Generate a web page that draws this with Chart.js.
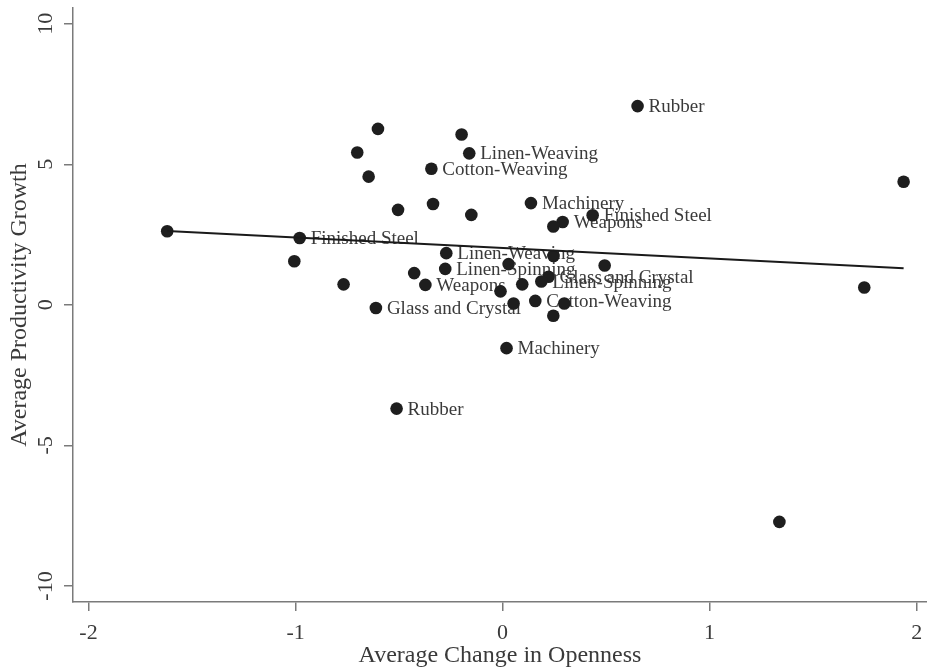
<!DOCTYPE html>
<html>
<head>
<meta charset="utf-8">
<script src="https://cdn.jsdelivr.net/npm/chart.js@4"></script>
<style>
  html, body { margin: 0; padding: 0; background: #fff; }
  #wrap { width: 927px; height: 670px; }
</style>
</head>
<body>
<div id="wrap"><canvas id="openChart"></canvas></div>
<script>
// industry points: change in openness (x) vs productivity growth (y)
var xVals = [0.652, -0.602, -0.198, -0.702, -0.161, -0.344, -0.647, -0.505, -0.336, -0.151,
             0.137, 0.435, 0.290, 0.245, -0.980, -1.620, -1.006, -0.272, 0.246, 0.493,
             -0.277, 0.029, -0.427, 0.222, 0.187, 0.095, -0.768, -0.373, -0.010, 0.158,
             0.298, 0.053, -0.612, 0.245, 0.019, -0.512, 1.937, 1.747, 1.337];
var yVals = [7.07, 6.26, 6.06, 5.42, 5.39, 4.84, 4.56, 3.38, 3.59, 3.20,
             3.62, 3.19, 2.95, 2.79, 2.38, 2.62, 1.55, 1.84, 1.74, 1.40,
             1.28, 1.45, 1.13, 1.00, 0.83, 0.73, 0.73, 0.71, 0.48, 0.14,
             0.05, 0.05, -0.11, -0.39, -1.54, -3.69, 4.38, 0.62, -7.72];
var pointLabels = ["Rubber", "", "", "", "Linen-Weaving", "Cotton-Weaving", "", "", "", "",
                   "Machinery", "Finished Steel", "Weapons", "", "Finished Steel", "", "", "Linen-Weaving", "", "",
                   "Linen-Spinning", "", "", "Glass and Crystal", "Linen-Spinning", "", "", "Weapons", "", "Cotton-Weaving",
                   "", "", "Glass and Crystal", "", "Machinery", "Rubber", "", "", ""];
// fitted line endpoints
var fitX = [-1.62, 1.937];
var fitY = [2.63, 1.30];
var xTicks = [-2, -1, 0, 1, 2];
var yTicks = [-10, -5, 0, 5, 10];

var serif = "'Liberation Serif', 'Times New Roman', serif";
var axisGrey = "#7a7a7a";
var textGrey = "#3a3a3a";

var pts = xVals.map(function (x, i) { return { x: x, y: yVals[i] }; });
var fitPts = fitX.map(function (x, i) { return { x: x, y: fitY[i] }; });

var labelPlugin = {
    id: "pointLabels",
    beforeDatasetsDraw: function (chart) {
        var meta = chart.getDatasetMeta(1);
        var ctx = chart.ctx;
        ctx.save();
        ctx.font = "19px " + serif;
        ctx.fillStyle = textGrey;
        ctx.textAlign = "left";
        ctx.textBaseline = "middle";
        meta.data.forEach(function (el, i) {
            if (pointLabels[i]) ctx.fillText(pointLabels[i], el.x + 11, el.y + 1);
        });
        ctx.restore();
    }
};

new Chart("openChart", {
    type: "scatter",
    data: {
        datasets: [{
            type: "line",
            data: fitPts,
            borderColor: "#1a1a1a",
            borderWidth: 2,
            pointRadius: 0,
            fill: false,
            order: 0
        }, {
            data: pts,
            backgroundColor: "#1e1e1e",
            borderWidth: 0,
            pointRadius: 6.3,
            order: 1
        }]
    },
    options: {
        responsive: true,
        maintainAspectRatio: false,
        animation: false,
        layout: { autoPadding: false, padding: { top: 8, right: 0, left: 0, bottom: 0 } },
        plugins: {
            legend: { display: false },
            tooltip: { enabled: false }
        },
        scales: {
            x: {
                type: "linear",
                min: -2.075,
                max: 2.05,
                afterFit: function (s) { s.height = 68; s.paddingLeft = 0; s.paddingRight = 0; },
                afterBuildTicks: function (s) { s.ticks = xTicks.map(function (v) { return { value: v }; }); },
                border: { display: true, color: axisGrey, width: 1.5 },
                grid: { display: true, drawOnChartArea: false, drawTicks: true, tickLength: 9, color: axisGrey, lineWidth: 1.5 },
                ticks: { font: { family: serif, size: 22 }, color: textGrey, padding: 9, maxRotation: 0 },
                title: { display: true, text: "Average Change in Openness", font: { family: serif, size: 24 }, color: textGrey, padding: { top: 0, bottom: 0 } }
            },
            y: {
                type: "linear",
                min: -10.57,
                max: 10.56,
                afterFit: function (s) { s.width = 73; s.paddingTop = 0; s.paddingBottom = 0; },
                afterBuildTicks: function (s) { s.ticks = yTicks.map(function (v) { return { value: v }; }); },
                border: { display: true, color: axisGrey, width: 1.5 },
                grid: { display: true, drawOnChartArea: false, drawTicks: true, tickLength: 9, color: axisGrey, lineWidth: 1.5 },
                ticks: { font: { family: serif, size: 22 }, color: textGrey, padding: 3, minRotation: 90, maxRotation: 90, crossAlign: "center" },
                title: { display: true, text: "Average Productivity Growth", font: { family: serif, size: 24 }, color: textGrey, padding: { top: 5, bottom: 0 } }
            }
        }
    },
    plugins: [labelPlugin]
});
</script>
</body>
</html>
